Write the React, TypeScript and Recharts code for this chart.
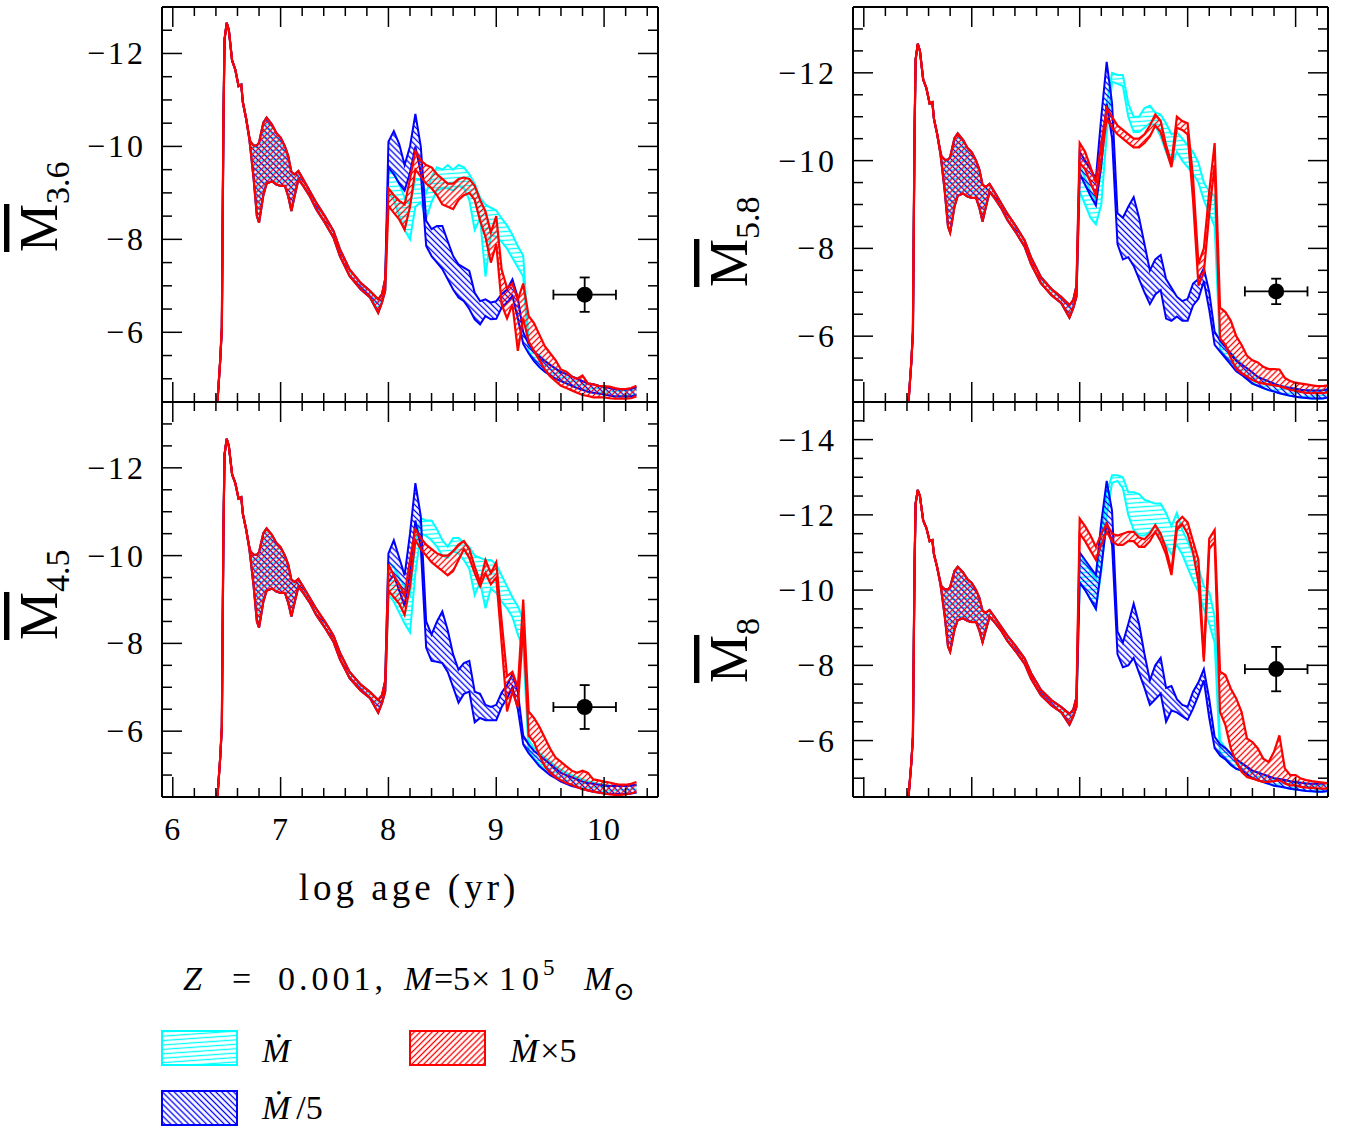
import React from 'react';
import { ComposedChart, Area, Scatter, XAxis, YAxis, ErrorBar } from 'recharts';

// ---------- shared young-age part (identical in all panels / series) ----------
const AGE_YOUNG = [6.40, 6.44, 6.455, 6.47, 6.48, 6.50, 6.52, 6.55, 6.58, 6.61, 6.635, 6.65, 6.68, 6.71, 6.72, 6.75, 6.78, 6.80, 6.82, 6.84, 6.87, 6.92, 6.96, 7.00, 7.04, 7.07, 7.10, 7.13, 7.165, 7.21, 7.27, 7.33, 7.41, 7.49, 7.55, 7.64, 7.74, 7.83, 7.905, 7.94, 7.97];
const YOUNG_HI = [-4.0, -5.4, -6.1, -10.6, -12.3, -12.66, -12.5, -11.85, -11.65, -11.3, -11.33, -10.95, -10.6, -10.2, -10.1, -10.02, -10.02, -10.08, -10.3, -10.51, -10.62, -10.47, -10.29, -10.19, -10.0, -9.8, -9.45, -9.4, -9.47, -9.29, -9.04, -8.79, -8.5, -8.18, -7.79, -7.35, -7.07, -6.89, -6.71, -6.82, -7.15];
const YOUNG_LO = [-4.0, -5.4, -6.1, -10.6, -12.3, -12.66, -12.5, -11.85, -11.65, -11.3, -11.33, -10.95, -10.6, -10.15, -9.95, -9.3, -8.5, -8.36, -8.65, -8.95, -9.2, -9.25, -9.18, -9.15, -9.15, -8.93, -8.61, -8.93, -9.29, -9.15, -8.93, -8.65, -8.36, -8.04, -7.64, -7.21, -6.93, -6.75, -6.42, -6.64, -6.9];

// ---------- older ages ----------
const AGE_OLD = [8.0, 8.05, 8.1, 8.15, 8.2, 8.25, 8.3, 8.35, 8.4, 8.45, 8.5, 8.55, 8.6, 8.65, 8.7, 8.75, 8.8, 8.85, 8.9, 8.95, 9.0, 9.05, 9.1, 9.15, 9.2, 9.25, 9.3, 9.35, 9.4, 9.45, 9.5, 9.55, 9.6, 9.65, 9.7, 9.75, 9.8, 9.85, 9.9, 9.95, 10.0, 10.05, 10.1, 10.15, 10.2, 10.25, 10.3];

// M 3.6
const M36_CYAN_HI = [-9.45, -9.45, -9.2, -8.9, -8.75, -9.3, -9.3, -9.0, -9.35, -9.55, -9.5, -9.6, -9.5, -9.6, -9.55, -9.4, -9.2, -8.9, -8.75, -8.68, -8.62, -8.45, -8.3, -8.1, -7.85, -7.65, -5.8, -5.6, -5.5, -5.4, -5.3, -5.22, -5.15, -5.1, -5.05, -5.0, -4.95, -4.9, -4.88, -4.85, -4.83, -4.8, -4.78, -4.77, -4.77, -4.78, -4.82];
const M36_CYAN_LO = [-9.0, -8.85, -8.5, -8.2, -8.0, -8.7, -8.8, -8.45, -8.8, -9.05, -9.1, -9.1, -9.05, -9.15, -9.1, -8.85, -8.2, -8.45, -7.2, -8.1, -8.05, -7.95, -7.8, -7.6, -7.4, -7.2, -5.6, -5.4, -5.25, -5.15, -5.08, -5.0, -4.95, -4.9, -4.85, -4.8, -4.76, -4.72, -4.7, -4.68, -4.66, -4.64, -4.62, -4.62, -4.62, -4.62, -4.65];
const M36_BLUE_HI = [-10.1, -10.33, -10.05, -9.6, -10.0, -10.7, -10.0, -8.4, -8.22, -8.29, -8.29, -7.96, -7.64, -7.46, -7.39, -7.32, -6.85, -6.67, -6.71, -6.64, -6.67, -6.82, -6.92, -7.14, -6.75, -6.0, -5.75, -5.58, -5.48, -5.38, -5.3, -5.22, -5.15, -5.1, -5.05, -5.0, -4.95, -4.9, -4.88, -4.85, -4.83, -4.8, -4.78, -4.77, -4.77, -4.78, -4.82];
const M36_BLUE_LO = [-9.55, -9.4, -9.2, -9.05, -9.43, -10.0, -9.43, -7.86, -7.64, -7.5, -7.36, -7.14, -6.92, -6.75, -6.67, -6.5, -6.28, -6.17, -6.35, -6.28, -6.29, -6.53, -6.64, -6.78, -6.3, -5.75, -5.55, -5.38, -5.25, -5.15, -5.08, -5.0, -4.95, -4.9, -4.85, -4.8, -4.76, -4.72, -4.7, -4.68, -4.66, -4.64, -4.62, -4.62, -4.62, -4.62, -4.65];
const M36_RED_HI = [-9.1, -8.95, -8.83, -8.75, -9.3, -9.9, -9.7, -9.6, -9.55, -9.4, -9.3, -9.2, -9.2, -9.3, -9.33, -9.3, -9.15, -8.85, -8.6, -8.15, -8.5, -7.35, -6.95, -7.05, -6.7, -7.05, -6.35, -6.2, -5.95, -5.7, -5.55, -5.4, -5.2, -5.15, -5.05, -5.0, -5.07, -4.9, -4.88, -4.85, -4.84, -4.83, -4.8, -4.78, -4.78, -4.8, -4.85];
const M36_RED_LO = [-8.72, -8.57, -8.43, -8.21, -8.7, -9.5, -9.35, -9.2, -9.1, -8.95, -8.75, -8.7, -8.65, -8.85, -8.95, -9.0, -8.85, -8.4, -8.05, -7.5, -7.9, -6.6, -6.3, -6.6, -5.6, -6.3, -5.8, -5.6, -5.4, -5.2, -5.05, -4.95, -4.85, -4.8, -4.75, -4.7, -4.65, -4.63, -4.6, -4.6, -4.6, -4.58, -4.57, -4.57, -4.57, -4.58, -4.62];

// M 5.8
const M58_CYAN_HI = [-9.9, -9.6, -9.3, -9.1, -9.8, -11.3, -12.0, -11.95, -11.95, -11.3, -11.0, -11.0, -11.2, -11.25, -11.1, -11.05, -10.85, -10.6, -10.65, -10.5, -10.35, -10.2, -9.95, -9.5, -9.3, -9.2, -5.95, -5.78, -5.62, -5.48, -5.37, -5.27, -5.17, -5.07, -5.02, -4.97, -4.92, -4.87, -4.84, -4.82, -4.8, -4.78, -4.77, -4.76, -4.76, -4.77, -4.79];
const M58_CYAN_LO = [-9.3, -9.0, -8.7, -8.55, -9.0, -10.6, -11.8, -11.75, -11.7, -11.0, -10.65, -10.65, -10.75, -10.85, -10.8, -10.55, -10.2, -9.9, -10.2, -10.0, -9.85, -9.7, -9.5, -9.1, -8.8, -8.5, -5.7, -5.52, -5.37, -5.22, -5.12, -5.02, -4.92, -4.87, -4.82, -4.77, -4.74, -4.7, -4.67, -4.64, -4.62, -4.6, -4.59, -4.58, -4.58, -4.58, -4.6];
const M58_BLUE_HI = [-10.2, -10.0, -9.8, -9.6, -11.0, -12.25, -11.3, -8.8, -8.7, -8.95, -9.17, -8.7, -8.1, -7.5, -7.75, -7.85, -7.3, -7.1, -6.9, -6.8, -6.85, -7.2, -7.3, -7.55, -7.0, -6.1, -5.9, -5.75, -5.6, -5.45, -5.35, -5.27, -5.17, -5.07, -5.02, -4.97, -4.92, -4.87, -4.84, -4.82, -4.8, -4.78, -4.77, -4.76, -4.76, -4.77, -4.79];
const M58_BLUE_LO = [-9.7, -9.45, -9.2, -8.98, -9.9, -11.3, -10.5, -8.1, -7.75, -7.8, -7.6, -7.3, -7.0, -6.73, -6.95, -7.05, -6.4, -6.35, -6.45, -6.35, -6.35, -6.7, -6.85, -7.25, -6.6, -5.8, -5.65, -5.5, -5.35, -5.2, -5.12, -5.02, -4.92, -4.87, -4.82, -4.77, -4.74, -4.7, -4.67, -4.64, -4.62, -4.6, -4.59, -4.58, -4.58, -4.58, -4.6];
const M58_RED_HI = [-10.4, -10.2, -9.85, -9.5, -10.4, -11.2, -11.0, -10.8, -10.7, -10.6, -10.5, -10.5, -10.6, -10.8, -11.05, -10.9, -10.35, -9.95, -11.0, -10.9, -10.85, -9.6, -7.65, -8.0, -9.3, -10.4, -6.65, -6.55, -6.35, -6.0, -5.8, -5.55, -5.45, -5.4, -5.3, -5.25, -5.25, -5.24, -5.05, -4.98, -4.94, -4.92, -4.9, -4.88, -4.86, -4.86, -4.88];
const M58_RED_LO = [-9.95, -9.8, -9.5, -9.2, -10.0, -10.95, -10.75, -10.6, -10.5, -10.4, -10.3, -10.3, -10.4, -10.55, -10.8, -10.65, -10.25, -9.85, -10.75, -10.7, -10.6, -9.1, -7.15, -7.45, -8.8, -9.9, -5.95, -5.8, -5.5, -5.25, -5.15, -5.08, -5.0, -4.95, -4.92, -4.9, -4.88, -4.86, -4.82, -4.78, -4.75, -4.73, -4.71, -4.7, -4.7, -4.7, -4.72];

// M 4.5
const M45_CYAN_HI = [-9.85, -9.75, -9.5, -9.3, -9.1, -10.3, -10.85, -10.8, -10.8, -10.6, -10.35, -10.2, -10.4, -10.4, -10.3, -10.2, -10.0, -9.95, -9.9, -9.9, -9.8, -9.55, -9.3, -9.05, -8.85, -8.55, -5.8, -5.62, -5.5, -5.4, -5.3, -5.2, -5.12, -5.05, -5.0, -4.95, -4.9, -4.86, -4.83, -4.8, -4.78, -4.76, -4.75, -4.75, -4.75, -4.76, -4.78];
const M45_CYAN_LO = [-9.1, -8.95, -8.7, -8.45, -8.25, -9.6, -10.5, -10.45, -10.35, -10.2, -10.0, -9.95, -10.1, -10.05, -9.9, -9.7, -9.1, -9.4, -8.8, -9.25, -9.15, -8.95, -8.8, -8.6, -8.2, -7.9, -5.55, -5.38, -5.25, -5.12, -5.02, -4.95, -4.88, -4.82, -4.77, -4.73, -4.7, -4.66, -4.63, -4.61, -4.59, -4.58, -4.57, -4.57, -4.57, -4.58, -4.6];
const M45_BLUE_HI = [-10.05, -10.35, -9.95, -9.55, -10.5, -11.65, -10.9, -8.5, -8.2, -8.5, -8.73, -8.3, -7.75, -7.4, -7.55, -7.6, -6.9, -6.85, -6.6, -6.55, -6.6, -6.88, -7.05, -7.3, -6.9, -5.9, -5.7, -5.55, -5.45, -5.35, -5.25, -5.15, -5.05, -5.0, -4.95, -4.9, -4.85, -4.82, -4.8, -4.78, -4.76, -4.75, -4.75, -4.75, -4.75, -4.76, -4.78];
const M45_BLUE_LO = [-9.4, -9.55, -9.2, -8.85, -9.6, -10.8, -10.2, -7.9, -7.6, -7.58, -7.55, -7.35, -7.0, -6.65, -6.85, -6.9, -6.2, -6.3, -6.25, -6.25, -6.25, -6.55, -6.75, -7.0, -6.5, -5.7, -5.5, -5.35, -5.2, -5.1, -5.0, -4.93, -4.85, -4.8, -4.75, -4.72, -4.68, -4.65, -4.62, -4.6, -4.58, -4.57, -4.57, -4.57, -4.57, -4.58, -4.6];
const M45_RED_HI = [-9.8, -9.55, -9.35, -9.1, -9.9, -10.6, -10.4, -10.25, -10.15, -10.05, -10.0, -10.0, -10.1, -10.25, -10.33, -10.15, -9.75, -9.4, -9.9, -9.6, -9.85, -8.5, -7.25, -7.35, -7.0, -9.0, -6.45, -6.3, -6.1, -5.85, -5.6, -5.4, -5.3, -5.2, -5.1, -5.05, -5.1, -5.05, -4.9, -4.88, -4.85, -4.83, -4.8, -4.78, -4.78, -4.8, -4.84];
const M45_RED_LO = [-9.2, -9.05, -8.9, -8.65, -9.3, -10.35, -10.15, -10.0, -9.85, -9.75, -9.65, -9.55, -9.65, -9.9, -10.15, -9.95, -9.6, -9.3, -9.6, -9.35, -9.5, -8.0, -6.45, -6.9, -6.55, -8.4, -5.9, -5.75, -5.45, -5.2, -5.05, -4.95, -4.88, -4.82, -4.78, -4.72, -4.68, -4.65, -4.62, -4.6, -4.58, -4.56, -4.55, -4.55, -4.56, -4.58, -4.62];

// M 8
const M8_CYAN_HI = [-11.0, -10.75, -10.5, -10.3, -11.4, -12.6, -13.05, -13.05, -13.0, -12.6, -12.6, -12.55, -12.4, -12.35, -12.3, -12.3, -12.05, -11.7, -12.05, -11.6, -11.3, -10.95, -10.6, -10.1, -9.95, -9.3, -6.0, -5.8, -5.65, -5.5, -5.4, -5.3, -5.2, -5.15, -5.1, -5.05, -5.0, -4.98, -4.95, -4.92, -4.9, -4.88, -4.86, -4.85, -4.85, -4.86, -4.88];
const M8_CYAN_LO = [-10.2, -10.0, -9.75, -9.5, -10.5, -12.0, -12.85, -12.9, -12.7, -12.0, -11.6, -11.45, -11.45, -11.55, -11.7, -11.4, -11.2, -10.95, -11.2, -10.95, -10.6, -10.25, -9.95, -9.5, -9.1, -8.6, -5.6, -5.5, -5.35, -5.25, -5.2, -5.1, -5.0, -4.95, -4.9, -4.85, -4.8, -4.78, -4.75, -4.72, -4.7, -4.68, -4.66, -4.65, -4.64, -4.64, -4.66];
const M8_BLUE_HI = [-11.0, -10.8, -10.6, -10.4, -11.8, -12.9, -12.1, -8.9, -8.6, -9.1, -9.64, -9.1, -8.3, -7.6, -8.0, -8.2, -7.4, -7.45, -7.1, -6.95, -6.9, -7.3, -7.55, -7.9, -7.1, -6.1, -5.9, -5.8, -5.65, -5.5, -5.4, -5.3, -5.2, -5.15, -5.1, -5.05, -5.0, -4.98, -4.95, -4.92, -4.9, -4.88, -4.86, -4.85, -4.85, -4.86, -4.88];
const M8_BLUE_LO = [-10.2, -10.0, -9.75, -9.5, -10.6, -11.8, -11.2, -8.3, -7.95, -8.0, -8.2, -7.8, -7.4, -6.95, -7.1, -7.25, -6.5, -6.8, -6.75, -6.65, -6.55, -6.85, -7.2, -7.6, -6.6, -5.8, -5.6, -5.5, -5.35, -5.25, -5.2, -5.1, -5.0, -4.95, -4.9, -4.85, -4.8, -4.78, -4.75, -4.72, -4.7, -4.68, -4.66, -4.65, -4.64, -4.64, -4.66];
const M8_RED_HI = [-11.9, -11.7, -11.45, -11.15, -11.5, -11.77, -11.5, -11.45, -11.5, -11.55, -11.55, -11.4, -11.35, -11.5, -11.73, -11.5, -11.1, -10.5, -11.8, -11.95, -11.8, -11.3, -10.8, -8.2, -11.37, -11.6, -7.83, -7.74, -7.38, -7.12, -6.76, -6.05, -5.96, -5.79, -5.52, -5.43, -5.7, -6.14, -5.26, -5.08, -5.08, -4.99, -4.95, -4.92, -4.9, -4.88, -4.86];
const M8_RED_LO = [-11.5, -11.3, -11.05, -10.8, -11.2, -11.55, -11.3, -11.2, -11.2, -11.3, -11.3, -11.15, -11.15, -11.3, -11.55, -11.3, -10.95, -10.4, -11.6, -11.75, -11.5, -11.0, -10.2, -8.1, -11.1, -11.28, -6.76, -6.41, -5.79, -5.43, -5.17, -5.03, -4.99, -4.94, -4.9, -4.9, -4.92, -4.95, -4.86, -4.81, -4.81, -4.77, -4.75, -4.74, -4.73, -4.72, -4.72];

// observational points with error bars
const POINT_36 = [{ age: 9.82, mag: -6.81, ex: 0.29, ey: 0.37 }];
const POINT_58 = [{ age: 9.82, mag: -7.02, ex: 0.29, ey: 0.29 }];
const POINT_45 = [{ age: 9.82, mag: -6.55, ex: 0.29, ey: 0.5 }];
const POINT_8 = [{ age: 9.82, mag: -7.9, ex: 0.29, ey: 0.59 }];

const FONT = "'Liberation Serif', 'DejaVu Serif', serif";
const CYAN = '#00ffff';
const BLUE = '#0000ff';
const RED = '#ff0000';

function buildRows(cHi: number[], cLo: number[], bHi: number[], bLo: number[], rHi: number[], rLo: number[]) {
  const rows: any[] = [];
  AGE_YOUNG.forEach((age, i) => {
    const v = [YOUNG_LO[i], YOUNG_HI[i]];
    rows.push({ age, cyan: v, blue: v, red: v });
  });
  AGE_OLD.forEach((age, i) => {
    rows.push({ age, cyan: [cLo[i], cHi[i]], blue: [bLo[i], bHi[i]], red: [rLo[i], rHi[i]] });
  });
  return rows;
}

const ROWS_36 = buildRows(M36_CYAN_HI, M36_CYAN_LO, M36_BLUE_HI, M36_BLUE_LO, M36_RED_HI, M36_RED_LO);
const ROWS_58 = buildRows(M58_CYAN_HI, M58_CYAN_LO, M58_BLUE_HI, M58_BLUE_LO, M58_RED_HI, M58_RED_LO);
const ROWS_45 = buildRows(M45_CYAN_HI, M45_CYAN_LO, M45_BLUE_HI, M45_BLUE_LO, M45_RED_HI, M45_RED_LO);
const ROWS_8 = buildRows(M8_CYAN_HI, M8_CYAN_LO, M8_BLUE_HI, M8_BLUE_LO, M8_RED_HI, M8_RED_LO);

function xTicks(maxK: number) {
  const t: number[] = [];
  for (let k = 0; k <= maxK; k++) t.push(+(6 + 0.2 * k).toFixed(1));
  return t;
}
function yTicks(lo: number, hi: number) {
  const t: number[] = [];
  for (let v = lo + 0.5; v < hi - 0.01; v += 0.5) t.push(v);
  return t;
}
const near = (v: number, step: number) => Math.abs(v / step - Math.round(v / step)) < 1e-6;

const LeftTick = (p: any) => {
  const { x, y, payload } = p;
  const v = payload.value;
  const major = near(v, 2);
  return (
    <g>
      <line x1={x} y1={y} x2={x + (major ? 20 : 10)} y2={y} stroke="#000" strokeWidth={1.5} />
      {major && (
        <text x={x - 16} y={y + 11} textAnchor="end" fontSize={32} fontFamily={FONT} fill="#000" letterSpacing={3}>
          {`\u2212${Math.abs(v)}`}
        </text>
      )}
    </g>
  );
};
const RightTick = (p: any) => {
  const { x, y, payload } = p;
  const major = near(payload.value, 2);
  return <line x1={x} y1={y} x2={x - (major ? 20 : 10)} y2={y} stroke="#000" strokeWidth={1.5} />;
};
const TopTick = (p: any) => {
  const { x, y, payload } = p;
  const major = near(payload.value, 1);
  return <line x1={x} y1={y} x2={x} y2={y + (major ? 20 : 9)} stroke="#000" strokeWidth={1.5} />;
};
const BottomTick = (p: any) => {
  const { x, y, payload, show } = p;
  const v = payload.value;
  const major = near(v, 1);
  return (
    <g>
      <line x1={x} y1={y} x2={x} y2={y - (major ? 20 : 9)} stroke="#000" strokeWidth={1.5} />
      {show && major && (
        <text x={x} y={y + 43} textAnchor="middle" fontSize={32} fontFamily={FONT} fill="#000" letterSpacing={1}>
          {Math.round(v)}
        </text>
      )}
    </g>
  );
};

const PointShape = (p: any) => <circle cx={p.cx} cy={p.cy} r={8} fill="#000" />;

function PatternSet({ pid }: { pid: string }) {
  return (
    <>
      <pattern id={`hc-${pid}`} patternUnits="userSpaceOnUse" width={10} height={4.4} patternTransform="rotate(-4)">
        <line x1={0} y1={2.2} x2={10} y2={2.2} stroke={CYAN} strokeWidth={1.3} />
      </pattern>
      <pattern id={`hb-${pid}`} patternUnits="userSpaceOnUse" width={4.2} height={10} patternTransform="rotate(-45)">
        <line x1={2.1} y1={0} x2={2.1} y2={10} stroke={BLUE} strokeWidth={1.3} />
      </pattern>
      <pattern id={`hr-${pid}`} patternUnits="userSpaceOnUse" width={4.2} height={10} patternTransform="rotate(45)">
        <line x1={2.1} y1={0} x2={2.1} y2={10} stroke={RED} strokeWidth={1.3} />
      </pattern>
    </>
  );
}

type PanelProps = {
  pid: string;
  left: number;
  top: number;
  width: number;
  height: number;
  margin: { top: number; right: number; bottom: number; left: number };
  xDomain: [number, number];
  xt: number[];
  yDomain: [number, number];
  rows: any[];
  point: any[];
  showX: boolean;
};

function Panel({ pid, left, top, width, height, margin, xDomain, xt, yDomain, rows, point, showX }: PanelProps) {
  const yt = yTicks(yDomain[0], yDomain[1]);
  const axisLine = { stroke: '#000', strokeWidth: 2 };
  return (
    <div style={{ position: 'absolute', left, top }}>
      <ComposedChart width={width} height={height} data={rows} margin={margin}>
        <defs>
          <PatternSet pid={pid} />
        </defs>
        <XAxis
          dataKey="age" type="number" domain={xDomain} allowDataOverflow ticks={xt} interval={0}
          height={1} tickSize={0} tickMargin={0} tickLine={false} axisLine={axisLine}
          tick={(p: any) => <BottomTick {...p} show={showX} />}
        />
        <XAxis
          xAxisId="top" orientation="top" dataKey="age" type="number" domain={xDomain} allowDataOverflow ticks={xt} interval={0}
          height={1} tickSize={0} tickMargin={0} tickLine={false} axisLine={axisLine}
          tick={(p: any) => <TopTick {...p} />}
        />
        <YAxis
          type="number" domain={yDomain} reversed allowDataOverflow ticks={yt} interval={0}
          width={1} tickSize={0} tickMargin={0} tickLine={false} axisLine={axisLine}
          tick={(p: any) => <LeftTick {...p} />}
        />
        <YAxis
          yAxisId="right" orientation="right" type="number" domain={yDomain} reversed allowDataOverflow ticks={yt} interval={0}
          width={1} tickSize={0} tickMargin={0} tickLine={false} axisLine={axisLine}
          tick={(p: any) => <RightTick {...p} />}
        />
        <Area dataKey="cyan" type="linear" stroke={CYAN} strokeWidth={2} fill={`url(#hc-${pid})`} fillOpacity={1} isAnimationActive={false} dot={false} activeDot={false} />
        <Area dataKey="blue" type="linear" stroke={BLUE} strokeWidth={2} fill={`url(#hb-${pid})`} fillOpacity={1} isAnimationActive={false} dot={false} activeDot={false} />
        <Area dataKey="red" type="linear" stroke={RED} strokeWidth={2.2} fill={`url(#hr-${pid})`} fillOpacity={1} isAnimationActive={false} dot={false} activeDot={false} />
        <Scatter data={point} dataKey="mag" isAnimationActive={false} shape={PointShape}>
          <ErrorBar dataKey="ex" direction="x" width={5} stroke="#000" strokeWidth={1.8} />
          <ErrorBar dataKey="ey" direction="y" width={5} stroke="#000" strokeWidth={1.8} />
        </Scatter>
      </ComposedChart>
    </div>
  );
}

function YTitle({ x, y, sub }: { x: number; y: number; sub: string }) {
  return (
    <text transform={`translate(${x},${y}) rotate(-90)`} fontFamily={FONT} fill="#000">
      <tspan fontSize={54} style={{ textDecoration: 'overline' }}>M</tspan>
      <tspan fontSize={34} dy={12}>{sub}</tspan>
    </text>
  );
}

function Overlay() {
  return (
    <svg width={1369} height={1129} style={{ position: 'absolute', left: 0, top: 0, pointerEvents: 'none' }}>
      <defs>
        <PatternSet pid="lg" />
      </defs>
      <YTitle x={57} y={252} sub="3.6" />
      <YTitle x={57} y={640} sub="4.5" />
      <YTitle x={747} y={287} sub="5.8" />
      <YTitle x={747} y={683} sub="8" />

      <text x={409} y={900} textAnchor="middle" fontSize={37} fontFamily={FONT} fill="#000" letterSpacing={4}>
        log age (yr)
      </text>

      <text y={990} fontSize={34} fontFamily={FONT} fill="#000">
        <tspan x={183} fontStyle="italic">Z</tspan>
        <tspan x={232}>=</tspan>
        <tspan x={278} letterSpacing={4}>0.001,</tspan>
        <tspan x={404} fontStyle="italic">M</tspan>
        <tspan x={434}>=</tspan>
        <tspan x={453}>5</tspan>
        <tspan x={471}>×</tspan>
        <tspan x={499} letterSpacing={6}>10</tspan>
        <tspan dx={-2} dy={-15} fontSize={23}>5</tspan>
        <tspan x={584} dy={15} fontStyle="italic">M</tspan>
        <tspan x={613} dy={10} fontSize={26}>⊙</tspan>
      </text>

      <rect x={162} y={1031} width={75} height={34} fill="url(#hc-lg)" stroke={CYAN} strokeWidth={2} />
      <rect x={410} y={1031} width={75} height={34} fill="url(#hr-lg)" stroke={RED} strokeWidth={2} />
      <rect x={162} y={1091} width={75} height={34} fill="url(#hb-lg)" stroke={BLUE} strokeWidth={2} />
      <text x={262} y={1062} fontSize={34} fontFamily={FONT} fill="#000" fontStyle="italic">Ṁ</text>
      <text x={510} y={1062} fontSize={34} fontFamily={FONT} fill="#000">
        <tspan fontStyle="italic">Ṁ</tspan>
        <tspan dx={2}>×5</tspan>
      </text>
      <text x={262} y={1119} fontSize={34} fontFamily={FONT} fill="#000">
        <tspan fontStyle="italic">Ṁ</tspan>
        <tspan dx={6}>/5</tspan>
      </text>
    </svg>
  );
}

export default function App() {
  const xtL = xTicks(22);
  const xtR = xTicks(21);
  return (
    <div style={{ position: 'absolute', left: 0, top: 0, width: 1369, height: 1129, background: '#fff' }}>
      <Overlay />
      <Panel pid="p36" left={0} top={0} width={680} height={410}
        margin={{ top: 6, right: 21, bottom: 7, left: 161 }}
        xDomain={[5.9, 10.5]} xt={xtL} yDomain={[-13, -4.5]} rows={ROWS_36} point={POINT_36} showX={false} />
      <Panel pid="p45" left={0} top={390} width={680} height={530}
        margin={{ top: 11, right: 21, bottom: 122, left: 161 }}
        xDomain={[5.9, 10.5]} xt={xtL} yDomain={[-13.5, -4.5]} rows={ROWS_45} point={POINT_45} showX={true} />
      <Panel pid="p58" left={700} top={0} width={660} height={410}
        margin={{ top: 6, right: 31, bottom: 7, left: 152 }}
        xDomain={[5.9, 10.3]} xt={xtR} yDomain={[-13.5, -4.5]} rows={ROWS_58} point={POINT_58} showX={false} />
      <Panel pid="p8" left={700} top={390} width={660} height={420}
        margin={{ top: 11, right: 31, bottom: 12, left: 152 }}
        xDomain={[5.9, 10.3]} xt={xtR} yDomain={[-15, -4.5]} rows={ROWS_8} point={POINT_8} showX={false} />
    </div>
  );
}
